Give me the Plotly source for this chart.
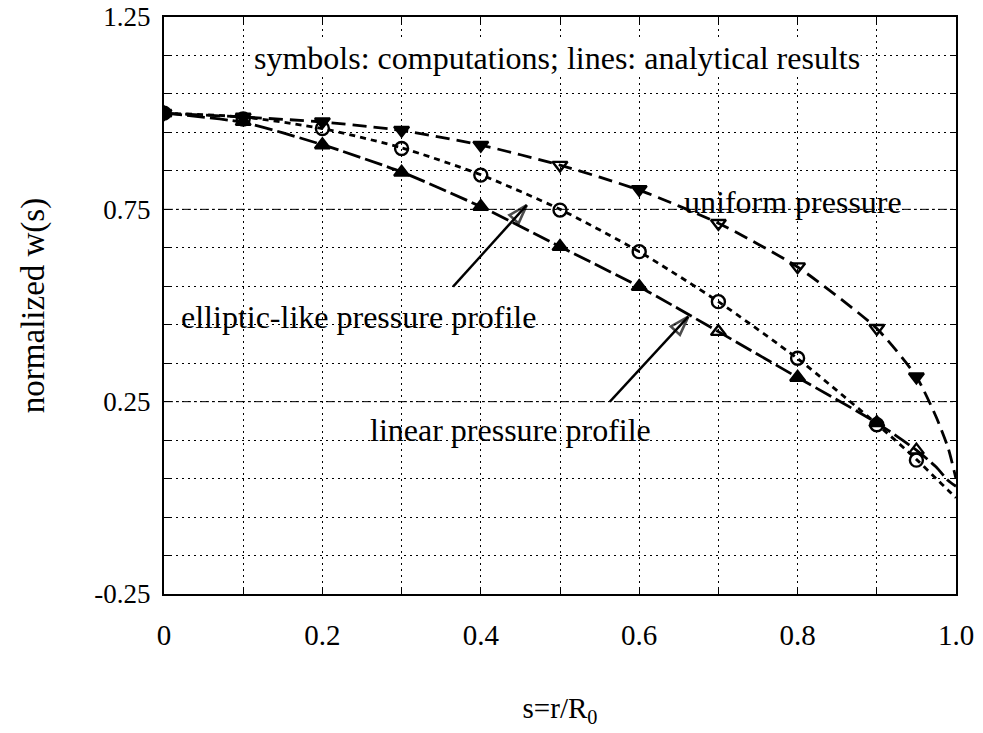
import plotly.graph_objects as go

# ---- data ----
s_comp = [0.0, 0.1, 0.2, 0.3, 0.4, 0.5, 0.6, 0.7, 0.8, 0.9, 0.95]
uniform_comp = [1.0, 0.99, 0.978, 0.956, 0.917, 0.865, 0.802, 0.714, 0.601, 0.441, 0.315]
elliptic_comp = [1.0, 0.985, 0.96, 0.908, 0.839, 0.748, 0.640, 0.510, 0.363, 0.190, 0.098]
linear_comp = [1.0, 0.978, 0.917, 0.846, 0.757, 0.653, 0.549, 0.432, 0.313, 0.195, 0.124]

s_line = [0.0, 0.1, 0.2, 0.3, 0.4, 0.5, 0.6, 0.7, 0.8, 0.9, 0.95, 0.975, 0.99, 1.0]
uniform_line = [1.0, 0.99, 0.977, 0.955, 0.917, 0.865, 0.800, 0.714, 0.600, 0.440, 0.315, 0.21, 0.13, 0.05]
elliptic_line = [1.0, 0.99, 0.96, 0.91, 0.84, 0.75, 0.64, 0.51, 0.362, 0.192, 0.10, 0.05, 0.02, 0.0]
linear_line = [1.0, 0.976, 0.918, 0.847, 0.757, 0.653, 0.549, 0.432, 0.313, 0.195, 0.124, 0.08, 0.045, 0.03]

uniform_symbols = ["triangle-down", "triangle-down", "triangle-down", "triangle-down", "triangle-down",
                   "triangle-down-open", "triangle-down", "triangle-down-open", "triangle-down-open",
                   "triangle-down-open", "triangle-down"]
elliptic_symbols = ["circle"] + ["circle-open"] * 10
linear_symbols = ["triangle-up", "triangle-up", "triangle-up", "triangle-up", "triangle-up",
                  "triangle-up", "triangle-up", "triangle-up-open", "triangle-up", "triangle-up",
                  "triangle-up-open"]

# pointer arrows (tail -> tip) for the curve labels
elliptic_arrow_x = [0.365, 0.458]
elliptic_arrow_y = [0.549, 0.761]
linear_arrow_x = [0.563, 0.662]
linear_arrow_y = [0.250, 0.471]

x_grid = [0.0, 0.1, 0.2, 0.3, 0.4, 0.5, 0.6, 0.7, 0.8, 0.9, 1.0]
x_labels = ["0", "", "0.2", "", "0.4", "", "0.6", "", "0.8", "", "1.0"]
y_grid = [-0.25, -0.15, -0.05, 0.05, 0.15, 0.25, 0.35, 0.45, 0.55, 0.65, 0.75, 0.85, 0.95, 1.05, 1.15, 1.25]
y_labels = ["-0.25", "", "", "", "", "0.25", "", "", "", "", "0.75", "", "", "", "", "1.25"]
dashdot_levels = [0.25, 0.75]

FONT = "Liberation Serif, Times New Roman, serif"
W, H = 983, 733
ML, MR, MT, MB = 164, 27, 17, 139

fig = go.Figure()

line_specs = [
    (uniform_line, "14px,7px"),
    (elliptic_line, "6px,5px"),
    (linear_line, "18px,5px"),
]
for ys, dash in line_specs:
    fig.add_trace(go.Scatter(x=s_line, y=ys, mode="lines",
                             line=dict(color="black", width=2.8, dash=dash, shape="spline", smoothing=0.6),
                             showlegend=False, hoverinfo="skip"))

marker_specs = [
    (uniform_comp, uniform_symbols),
    (elliptic_comp, elliptic_symbols),
    (linear_comp, linear_symbols),
]
for ys, syms in marker_specs:
    fig.add_trace(go.Scatter(x=s_comp, y=ys, mode="markers",
                             marker=dict(symbol=syms, size=13, color="black",
                                         line=dict(color="black", width=2.4)),
                             showlegend=False))

for ax_, ay_ in [(elliptic_arrow_x, elliptic_arrow_y), (linear_arrow_x, linear_arrow_y)]:
    fig.add_trace(go.Scatter(x=ax_, y=ay_, mode="lines+markers",
                             line=dict(color="black", width=2.4),
                             marker=dict(symbol=["circle", "arrow-open"], size=[0, 20],
                                         angleref="previous", color="black",
                                         line=dict(color="black", width=2.6)),
                             showlegend=False, hoverinfo="skip", cliponaxis=False))

for lv in dashdot_levels:
    fig.add_shape(type="line", xref="paper", yref="y", x0=0, x1=1, y0=lv, y1=lv,
                  line=dict(color="black", width=1, dash="dashdot"), layer="below")

ann_font = dict(family=FONT, size=32, color="black")
fig.add_annotation(x=0.496, y=1.143, xref="x", yref="y", showarrow=False,
                   text="symbols: computations; lines: analytical results",
                   font=ann_font, bgcolor="white", borderpad=0)
fig.add_annotation(x=0.794, y=0.77, xref="x", yref="y", showarrow=False,
                   text="uniform pressure", font=ann_font)
fig.add_annotation(x=0.246, y=0.47, xref="x", yref="y", showarrow=False,
                   text="elliptic-like pressure profile", font=ann_font)
fig.add_annotation(x=0.438, y=0.176, xref="x", yref="y", showarrow=False,
                   text="linear pressure profile", font=ann_font)

fig.update_layout(
    width=W, height=H,
    margin=dict(l=ML, r=MR, t=MT, b=MB, autoexpand=False),
    paper_bgcolor="white", plot_bgcolor="white",
    font=dict(family=FONT, color="black"),
)

fig.update_xaxes(range=[0, 1], tickmode="array", tickvals=x_grid, ticktext=x_labels,
                 showgrid=True, gridcolor="black", gridwidth=1, griddash="2px,4px",
                 showline=True, linecolor="black", linewidth=2, mirror="allticks",
                 ticks="inside", ticklen=6, tickcolor="black", tickwidth=1,
                 tickfont=dict(family=FONT, size=29, color="black"),
                 ticklabelstandoff=14, zeroline=False, automargin=False,
                 title=dict(text="s=r/R<sub>0</sub>", standoff=48,
                            font=dict(family=FONT, size=29, color="black")))
fig.update_yaxes(range=[-0.25, 1.25], tickmode="array", tickvals=y_grid, ticktext=y_labels,
                 showgrid=True, gridcolor="black", gridwidth=1, griddash="2px,4px",
                 showline=True, linecolor="black", linewidth=2, mirror="allticks",
                 ticks="inside", ticklen=6, tickcolor="black", tickwidth=1,
                 tickfont=dict(family=FONT, size=27, color="black"),
                 ticklabelstandoff=6, zeroline=False, automargin=False,
                 title=dict(text="normalized w(s)", standoff=40,
                            font=dict(family=FONT, size=33, color="black")))

fig.write_html("out.html")
